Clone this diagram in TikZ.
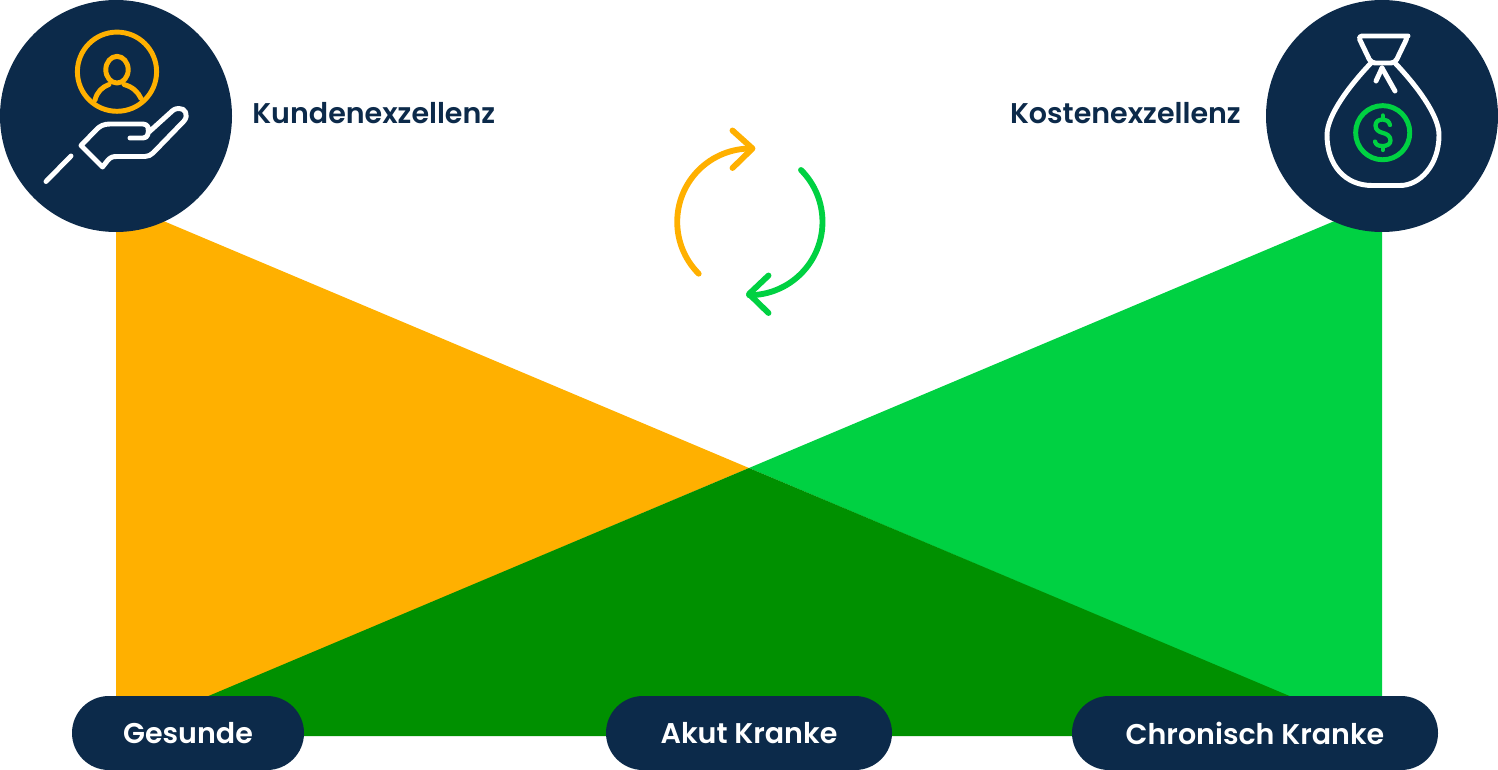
\documentclass[tikz,border=0pt]{standalone}
\usepackage{fontspec}
\setmainfont{Poppins}[UprightFont=* SemiBold]
\definecolor{navy}{HTML}{0C2A4A}
\definecolor{amber}{HTML}{FFB000}
\definecolor{lime}{HTML}{00D142}
\definecolor{forest}{HTML}{009000}
\tikzset{
 iconline/.style={line width=3.7pt,line cap=round,line join=round},
 loopline/.style={line width=4.4pt,line cap=round,line join=round},
 pill/.style={fill=navy,rounded corners=27.7pt,minimum height=55.5pt,inner sep=0pt,text=white,font=\fontsize{21.4}{24}\selectfont},
 disc/.style={circle,fill=navy,minimum size=174pt,inner sep=0pt},
 headline/.style={text=navy,inner sep=0pt,font=\fontsize{21.4}{24}\selectfont},
}
\begin{document}
\begin{tikzpicture}[x=0.75pt,y=-0.75pt]
\useasboundingbox (0,0) rectangle (1498,770);
\coordinate (apex) at (749,468);
\coordinate (tl) at (116,201);
\coordinate (bl) at (116,736);
\coordinate (tr) at (1382,201);
\coordinate (br) at (1382,736);
\coordinate (bl2) at (116,735);
\fill[amber] (tl) -- (apex) -- (bl) -- cycle;
\fill[lime] (tr) -- (apex) -- (br) -- cycle;
\fill[forest] (apex) -- (1382,735) -- (br) -- (bl) -- (bl2) -- cycle;
\node[disc] (custdisc) at (116,116) {};
\node[disc] (costdisc) at (1382,116) {};
\node[pill,minimum width=174pt] (healthy) at (188,733) {Gesunde};
\node[pill,minimum width=214.5pt] (acute) at (749,733) {Akut Kranke};
\node[pill,minimum width=274.5pt] (chronic) at (1255,733) {Chronisch Kranke};
\node[headline,anchor=west] (custlabel) at (252,113) {Kundenexzellenz};
\node[headline,anchor=east] (costlabel) at (1241,113) {Kostenexzellenz};
% person icon
\begin{scope}[iconline,amber]
\draw (117,71.7) circle[radius=29.7pt];
\draw (117,69.7) ellipse[x radius=8.4pt,y radius=10pt];
\draw (95,100) .. controls (97,92) and (102,87) .. (109,84.5);
\draw (141,98.5) .. controls (138,92) and (133,87) .. (124,84.5);
\end{scope}
% hand icon
\begin{scope}[iconline,white]
\draw (130,138) -- (143,138) .. controls (148,138) and (149,133) .. (148,127) .. controls (147,125) and (145,124) .. (143,124) -- (110,124) .. controls (104,124) and (100,126) .. (97,129) -- (81,145.5) -- (102.5,167) -- (108,160) .. controls (111,157) and (113,156.5) .. (117,156.5) -- (145,156.5) .. controls (148,156.5) and (151,155) .. (153,153) -- (184,121) .. controls (189,115) and (185,108) .. (179,108.5) .. controls (175,108.5) and (173,110) .. (170,113) -- (149,132);
\draw (46,181.5) -- (71,156);
\end{scope}
% money bag
\begin{scope}[iconline,white]
\draw[rounded corners=3pt] (1370,36) -- (1404,36) -- (1408,36) -- (1395,63) -- (1371,63) -- (1358,36) -- cycle;
\draw (1371,63) .. controls (1350,85) and (1327,115) .. (1327,135) .. controls (1327,165) and (1345,185.5) .. (1372,185.5) -- (1400,185.5) .. controls (1420,185.5) and (1439,165) .. (1439,135) .. controls (1439,115) and (1416,85) .. (1395,63);
\draw (1382,68) -- (1376,81);
\draw (1382,68) -- (1395,91);
\end{scope}
% coin
\begin{scope}[iconline,lime]
\draw (1382.7,132.7) circle[radius=20.3pt];
\draw[line width=3.2pt] (1390,125) .. controls (1389,121) and (1386,119.5) .. (1383,119.5) .. controls (1378,119.5) and (1375.5,122) .. (1375.5,125.5) .. controls (1375.5,130) and (1379,132) .. (1383,133) .. controls (1387,134) and (1390.5,136) .. (1390.5,140.5) .. controls (1390.5,144) and (1387,146) .. (1383,146) .. controls (1378,146) and (1376,145) .. (1375,141.5);
\draw[line width=3.2pt] (1382.7,115.5) -- (1382.7,119);
\draw[line width=3.2pt] (1382.7,146.5) -- (1382.7,150);
\end{scope}
% cycle arrows
\coordinate (astart) at (698.7,273.7);
\coordinate (gstart) at (801,170);
\draw[loopline,amber] (astart) arc[start angle=225,end angle=90,radius=55pt];
\draw[loopline,amber] (732.5,130.5) -- (752.5,148.5) -- (732.5,168);
\draw[loopline,lime] (gstart) arc[start angle=45,end angle=-90,radius=55pt];
\draw[loopline,lime] (768.5,275.5) -- (749,294) -- (768.5,313);
\end{tikzpicture}
\end{document}
